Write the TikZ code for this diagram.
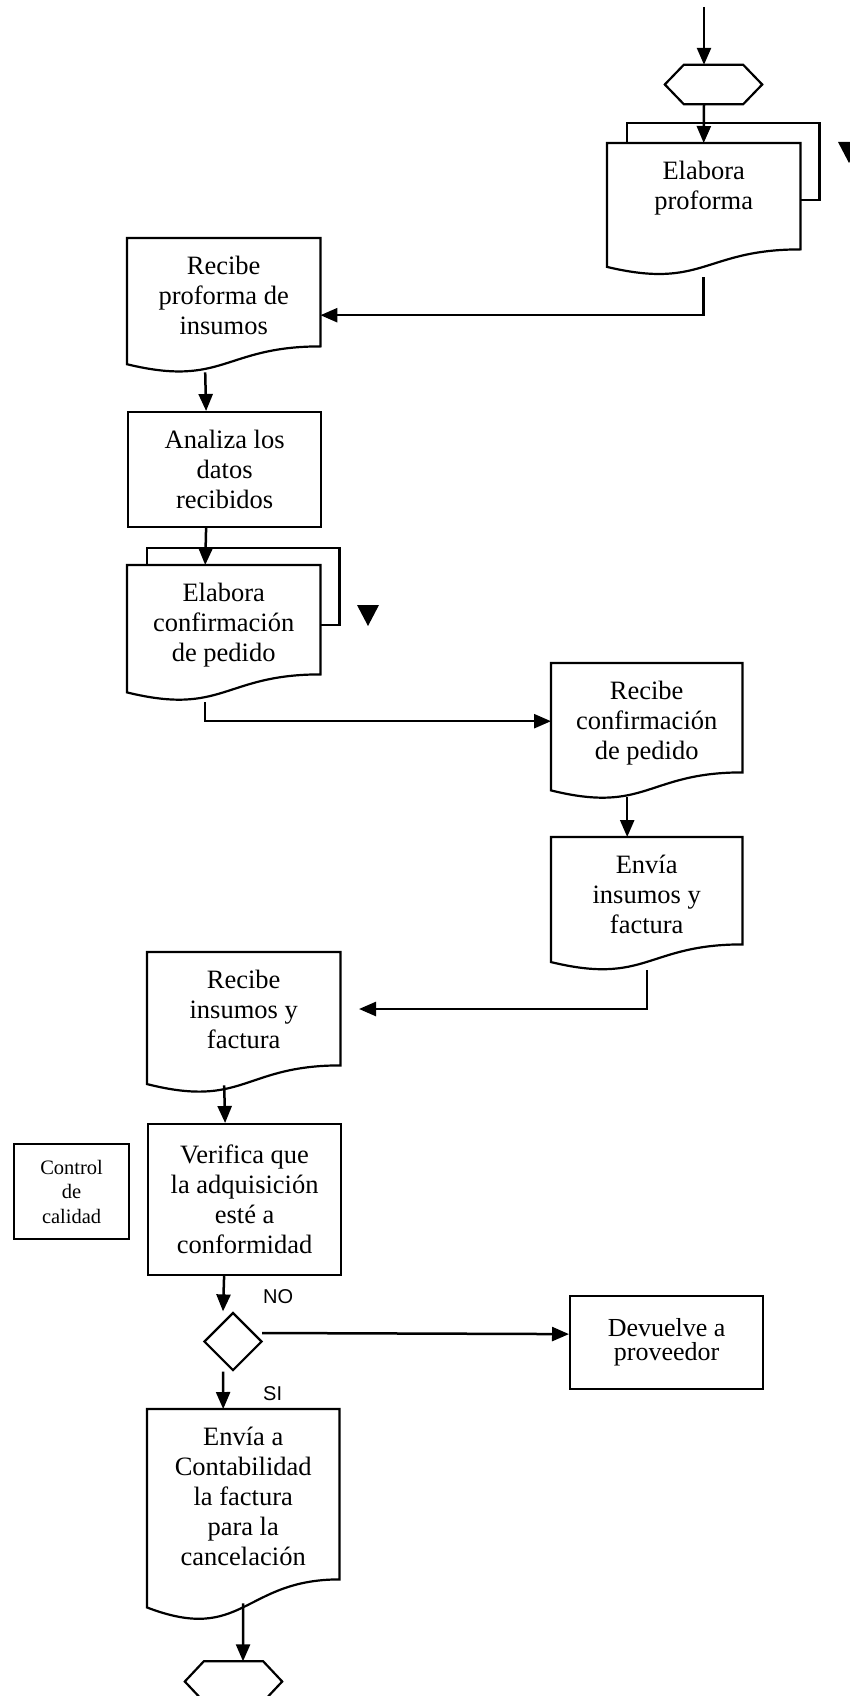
\documentclass[tikz,border=0pt]{standalone}
\usepackage{fontspec}
\setmainfont{Liberation Serif}
\newfontfamily\sanslabel{Liberation Sans}
\usetikzlibrary{arrows.meta,calc,shapes.geometric,backgrounds}

% text sizes (1pt = one unit of the drawing grid)
\newcommand\flowtext{\fontsize{26.5}{30}\selectfont}
\newcommand\flowtight{\fontsize{26}{24}\selectfont}
\newcommand\smalltext{\fontsize{20.5}{24.5}\selectfont}
\newcommand\branchtext{\sanslabel\fontsize{20}{24}\selectfont}

% outline of a document symbol: the node is the upper text area,
% the wavy lower edge hangs below it
\newcommand\docshape[1]{%
  \draw[stroke, fill=white] (#1.north west) -- (#1.north east) -- (#1.south east)
    .. controls (#1.south) and ($(#1.north)!1.381!(#1.south)$)
    .. ($(#1.north west)!1.1646!(#1.south west)$) -- cycle;}

% outline of a terminal hexagon
\newcommand\hexshape[1]{%
  \draw[stroke, fill=white] (#1.west) -- ([xshift=19pt]#1.north west)
    -- ([xshift=-19pt]#1.north east) -- (#1.east)
    -- ([xshift=-19pt]#1.south east) -- ([xshift=19pt]#1.south west) -- cycle;}

\begin{document}
\begin{tikzpicture}[x=1pt, y=-1pt,
  every node/.style={inner sep=0pt},
  stroke/.style={line width=2.2pt, line join=miter},
  flow/.style={line width=2.5pt, -{Triangle[length=17pt,width=14pt]}},
  procbox/.style={draw, stroke, fill=white, align=center, font=\flowtext,
    minimum width=193pt, anchor=north west},
  docbox/.style n args={2}{anchor=north west, font=\flowtext,
    execute at begin node={\begin{minipage}[c][#2][t]{#1}\centering\vspace*{15pt}\strut},
    execute at end node={\end{minipage}}},
  endbox/.style={minimum width=97pt, minimum height=#1},
  choice/.style={diamond, draw, stroke, fill=white, minimum width=58pt, minimum height=58pt},
  branch/.style={anchor=west, font=\branchtext},
  marker/.style={fill=black}]

\useasboundingbox (0,0) rectangle (850,1696);

% ---------- nodes ----------
\coordinate (start) at (704,7);
\node[endbox=39pt] (hx1) at (713.5,84.5) {};
\node[docbox={193pt}{106pt}] (d1) at (607,143) {Elabora\\proforma};
\node[docbox={193pt}{108pt}] (d2) at (127,238) {Recibe\\proforma de\\insumos};
\node[procbox, minimum height=115pt] (an) at (127,411) {Analiza los\\datos\\recibidos};
\node[docbox={193pt}{109pt}] (d3) at (127,565) {Elabora\\confirmación\\de pedido};
\node[docbox={191pt}{109pt}] (d4) at (551,663) {Recibe\\confirmación\\de pedido};
\node[docbox={191pt}{107pt}] (d5) at (551,837) {Envía\\insumos y\\factura};
\node[docbox={193pt}{113pt}] (d6) at (147,952) {Recibe\\insumos y\\factura};
\coordinate (gap) at (359,1009);
\node[procbox, minimum height=151pt] (vf) at (147,1123)
  {Verifica que\\la adquisición\\esté a\\conformidad};
\node[procbox, font=\smalltext, minimum width=115pt, minimum height=95pt] (cc) at (13,1143)
  {Control\\de\\calidad};
\node[choice] (dia) at (233,1341.5) {};
\node[procbox, font=\flowtight, minimum height=93pt] (dev) at (569,1295) {Devuelve a\\proveedor};
\node[docbox={192pt}{170pt}] (d7) at (147,1409)
  {Envía a\\Contabilidad\\la factura\\para la\\cancelación};
\node[endbox=40pt] (hx2) at (233.5,1681.5) {};
\node[branch] (no) at (263,1297) {NO};
\node[branch] (si) at (263,1394) {SI};

% ---------- symbol outlines (behind the texts) ----------
\begin{pgfonlayer}{background}
  \draw[stroke, fill=white] ([xshift=20pt,yshift=20pt]d1.north west)
    rectangle ([xshift=19pt,yshift=-57pt]d1.north east);
  \draw[stroke, fill=white] ([xshift=20pt,yshift=17pt]d3.north west)
    rectangle ([xshift=19pt,yshift=-60pt]d3.north east);
  \docshape{d1}
  \docshape{d2}
  \docshape{d3}
  \docshape{d4}
  \docshape{d5}
  \docshape{d6}
  \docshape{d7}
  \hexshape{hx1}
  \hexshape{hx2}
\end{pgfonlayer}

% ---------- copy markers ----------
\fill[marker] (838,142) -- (860,142) -- (849,163) -- cycle;
\fill[marker] (357,605) -- (379,605) -- (368,626) -- cycle;

% ---------- connectors ----------
\draw[flow] (start) -- ([xshift=-9.5pt]hx1.north);
\draw[flow] ([xshift=-9.5pt]hx1.south) -- (d1.north);
\draw[flow] ([yshift=-28pt]d1.south) |- ([yshift=-23pt]d2.east);
\draw[flow] ([xshift=-18.5pt,yshift=-26pt]d2.south) -- ([xshift=-18.5pt]an.north);
\draw[flow] ([xshift=-18.5pt]an.south) -- ([xshift=-18.5pt]d3.north);
\draw[flow] ([xshift=-18.5pt,yshift=-28pt]d3.south) |- ([yshift=-3.5pt]d4.west);
\draw[flow] ([xshift=-19.5pt,yshift=-25pt]d4.south) -- ([xshift=-19.5pt]d5.north);
\draw[flow] ([xshift=0.5pt,yshift=-26pt]d5.south) |- (gap);
\draw[flow] ([xshift=-19.5pt,yshift=-20pt]d6.south) -- ([xshift=-19.5pt]vf.north);
\draw[flow] ([xshift=-20.5pt]vf.south) -- ([xshift=-10pt]dia.north);
\draw[flow] ([xshift=-1pt,yshift=8.5pt]dia.east) -- ([yshift=8.5pt]dev.west);
\draw[flow] ([xshift=-10pt]dia.south) -- ([xshift=-20pt]d7.north);
\draw[flow] ([yshift=-24pt]d7.south) -- ([xshift=9.5pt]hx2.north);
\end{tikzpicture}
\end{document}
